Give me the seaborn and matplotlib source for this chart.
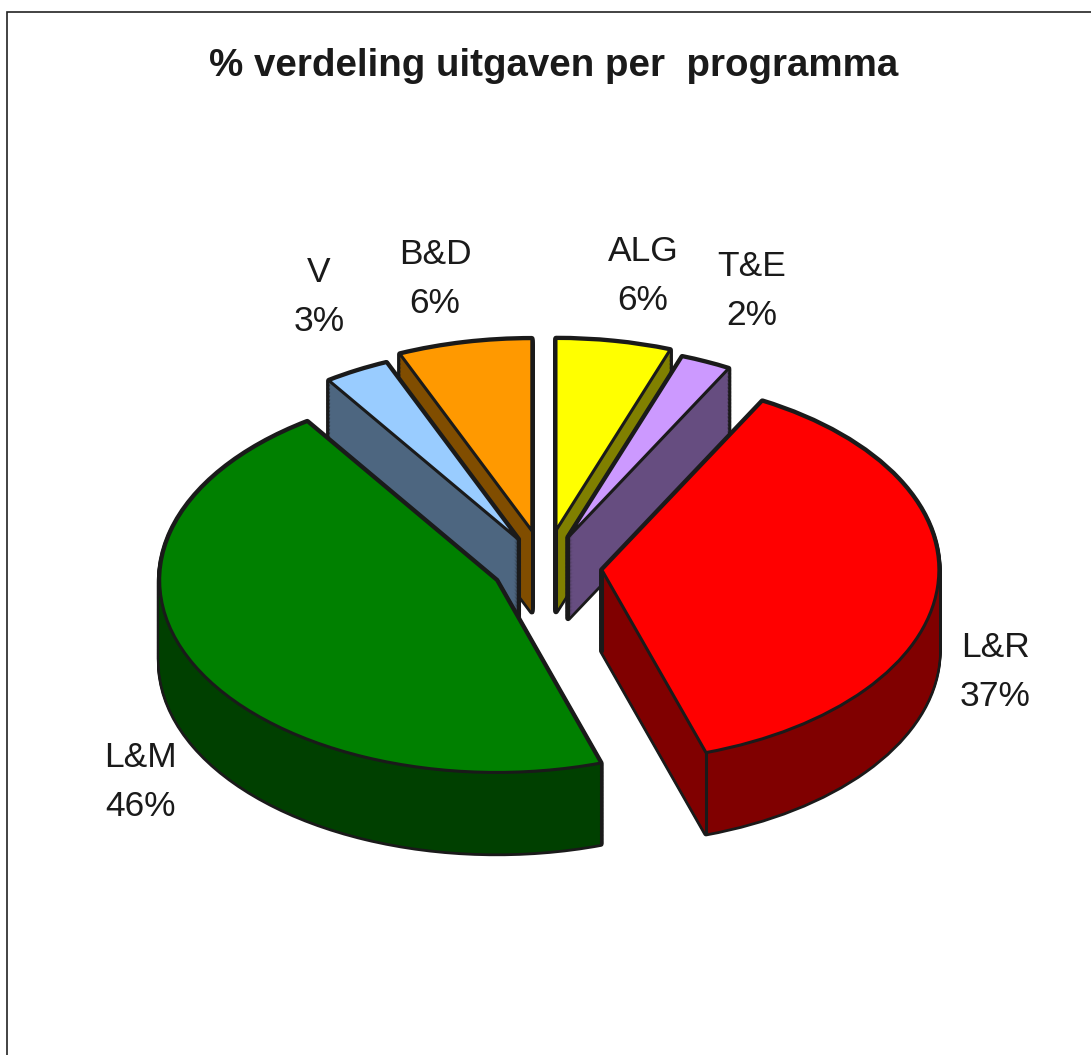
# % verdeling uitgaven per programma - exploded 3D style pie
import numpy as np
import matplotlib
matplotlib.use('Agg')
import matplotlib.pyplot as plt
import seaborn as sns

# Data
programmas = ['ALG', 'T&E', 'L&R', 'L&M', 'V', 'B&D']
percentages = [5.5, 2.4, 37.1, 45.5, 3.1, 6.4]
colors = ['#FFFF00', '#CC99FF', '#FF0000', '#008000', '#99CCFF', '#FF9900']
explode = [0.193, 0.169, 0.170, 0.159, 0.164, 0.193]
title = '% verdeling uitgaven per  programma'

sns.set_theme(style='white')
plt.rcParams['font.family'] = ['Liberation Sans', 'DejaVu Sans']

W, H = 1091, 1055
fig = plt.figure(figsize=(W / 100, H / 100), dpi=100, facecolor='white')
ax = fig.add_axes([0, 0, 1, 1])

# Pie ellipse in pixels: unit circle is squashed by the axes limits
cx, cy, rx, ry = 544.8, 567, 337, 192
depth = 81 / ry
dark = [tuple(c * 0.5 for c in matplotlib.colors.to_rgb(col)) for col in colors]
# back to front
order = {5: 0, 4: 1, 0: 2, 1: 3, 2: 4, 3: 5}


def draw_pie(center, cols, edge, lw, z):
    wedges, _ = ax.pie(percentages, explode=explode, colors=cols, startangle=90,
                       counterclock=False, center=center,
                       wedgeprops={'edgecolor': edge, 'linewidth': lw, 'joinstyle': 'round'})
    for i, w in enumerate(wedges):
        w.set_zorder(10 * order[i] + z)
    return wedges


# side walls: black outline pass, then dark fill on top of it
offsets = np.linspace(depth, 0, 60)
for d in offsets:
    draw_pie((0, -d), ['k'] * 6, 'k', 4.0, 1)
for d in offsets:
    draw_pie((0, -d), dark, 'none', 0, 2)

# top faces
tops = draw_pie((0, 0), colors, 'k', 2.2, 4)

# vertical edges at the apex and at rim corners on the front half
for i, w in enumerate(tops):
    x0, y0 = w.center
    pts = [(x0, y0)]
    for a in (w.theta1, w.theta2):
        if np.sin(np.radians(a)) < 0:
            pts.append((x0 + np.cos(np.radians(a)), y0 + np.sin(np.radians(a))))
    for x, y in pts:
        ax.plot([x, x], [y, y - depth], color='k', lw=2.2, zorder=10 * order[i] + 3,
                solid_capstyle='round')

ax.set_aspect('auto')
ax.set_xlim(-cx / rx, (W - cx) / rx)
ax.set_ylim((cy - H) / ry, cy / ry)
ax.axis('off')

# outer chart border
fig.add_artist(plt.Rectangle((6.5 / W, -0.05), 1.1, 1.05 - 11.5 / H, transform=fig.transFigure,
                             fill=False, edgecolor='#222222', lw=1.2))

fig.text(554 / W, 1 - 76 / H, title, ha='center', va='baseline', fontsize=27.7,
         fontweight='bold', color='k')

# labels, placed by pixel position
label_pos = [(643, 276), (752, 291), (995, 672), (140, 782), (319, 297), (435, 279)]
for name, p, (x, y) in zip(programmas, percentages, label_pos):
    fig.text(x / W, 1 - y / H, f'{name}\n{p:.0f}%', ha='center', va='center',
             fontsize=25.5, color='k', linespacing=1.64)

fig.savefig('out.png', dpi=100)
